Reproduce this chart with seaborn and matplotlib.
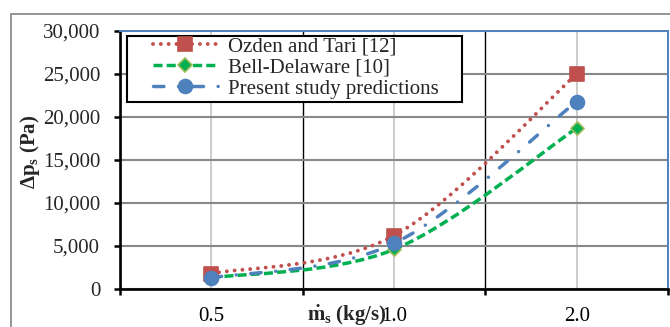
import numpy as np
import pandas as pd
import matplotlib
matplotlib.use("Agg")
import matplotlib.pyplot as plt
from matplotlib.path import Path
from matplotlib.patches import PathPatch, Rectangle
from matplotlib.lines import Line2D
from matplotlib.ticker import FuncFormatter
import seaborn as sns

# Shell-side pressure drop vs. shell-side mass flow rate
flow_rates = ["0.5", "1.0", "2.0"]
ozden_tari = [1800, 6200, 25000]
bell_delaware = [1300, 4600, 18700]
present_study = [1300, 5300, 21800]
series_names = ["Ozden and Tari [12]", "Bell-Delaware [10]", "Present study predictions"]
y_ticks = [0, 5000, 10000, 15000, 20000, 25000, 30000]

sns.set_theme(style="white")
plt.rcParams["font.family"] = ["Liberation Serif", "DejaVu Serif"]
plt.rcParams["mathtext.fontset"] = "custom"
plt.rcParams["mathtext.rm"] = "Liberation Serif"
plt.rcParams["mathtext.it"] = "Liberation Serif:italic"
plt.rcParams["mathtext.bf"] = "Liberation Serif:bold"

RED, GREEN, BLUE = "#C0504D", "#00B050", "#4F81BD"
FS = 15

fig = plt.figure(figsize=(6.70, 3.27), dpi=100)
W, H = 548, 258
ax = fig.add_axes([120 / 670, 1 - 289 / 327, W / 670, H / 327])

pos = np.arange(len(flow_rates))
df = pd.DataFrame({"x": np.tile(pos, 3),
                   "y": ozden_tari + bell_delaware + present_study,
                   "series": np.repeat(series_names, len(pos))})


def smooth_path(xs, ys):
    """Excel-style smoothed line: cubic Bezier segments through the points."""
    pts = np.column_stack([xs, ys]).astype(float)
    n = len(pts)
    verts = [pts[0]]
    codes = [Path.MOVETO]
    for i in range(n - 1):
        p0 = pts[max(i - 1, 0)]
        p1 = pts[i]
        p2 = pts[i + 1]
        p3 = pts[min(i + 2, n - 1)]
        c1 = p1 + (p2 - p0) / 6.0
        c2 = p2 - (p3 - p1) / 6.0
        verts += [c1, c2, p2]
        codes += [Path.CURVE4] * 3
    return Path(verts, codes)


styles = {
    series_names[0]: dict(color=RED, lw=2.8, ls=(0, (0.01, 2.0)), cap="round",
                          marker="s", ms=90, fc=RED, ec=RED),
    series_names[1]: dict(color=GREEN, lw=2.5, ls=(0, (2.6, 1.2)), cap="butt",
                          marker="D", ms=45, fc=GREEN, ec="#9BBB59"),
    series_names[2]: dict(color=BLUE, lw=2.5, ls=(0, (3.0, 4.2, 0.01, 4.2)), cap="round",
                          marker="o", ms=100, fc=BLUE, ec=BLUE),
}

for name in series_names:
    st = styles[name]
    sub = df[df["series"] == name]
    patch = PathPatch(smooth_path(sub["x"].values, sub["y"].values), fill=False,
                      edgecolor=st["color"], linewidth=st["lw"], linestyle=st["ls"],
                      zorder=3)
    patch.set_capstyle(st["cap"])
    ax.add_patch(patch)

for name in series_names:
    st = styles[name]
    sub = df[df["series"] == name]
    sns.scatterplot(x=sub["x"], y=sub["y"], marker=st["marker"], s=st["ms"],
                    color=st["fc"], edgecolor=st["ec"], linewidth=1.2, ax=ax,
                    zorder=4, legend=False)

ax.set_xlim(-0.5, len(flow_rates) - 0.5)
ax.set_ylim(0, 30000)
ax.set_xlabel("")
ax.set_ylabel("")

# Category axis: labels at centres, tick marks at boundaries
ax.set_xticks(pos)
ax.set_xticklabels(flow_rates)
ax.set_xticks(np.arange(len(flow_rates) + 1) - 0.5, minor=True)
ax.set_yticks(y_ticks)
ax.yaxis.set_major_formatter(FuncFormatter(lambda v, _: f"{int(v):,}"))

ax.tick_params(axis="x", which="major", length=0, pad=13, labelsize=FS, colors="black")
ax.tick_params(axis="x", which="minor", length=4.3, width=1.8, direction="out",
               color="black", bottom=True)
ax.tick_params(axis="y", which="major", length=4.3, width=1.8, direction="out",
               color="black", left=True, pad=10, labelsize=FS)

ax.set_axisbelow(True)
ax.grid(True, axis="y", which="major", color="#888888", linewidth=1.5)
ax.grid(True, axis="x", which="major", color="#C8C8C8", linewidth=1.3)
ax.grid(True, axis="x", which="minor", color="black", linewidth=1.0)

for side in ("left", "bottom"):
    ax.spines[side].set_color("black")
    ax.spines[side].set_linewidth(1.9)
for side in ("top", "right"):
    ax.spines[side].set_color(BLUE)
    ax.spines[side].set_linewidth(1.4)

# Legend box with wide side margins
ax.add_patch(Rectangle((7 / W, (289 - 102) / H), 335 / W, 66 / H,
                       transform=ax.transAxes, facecolor="white", edgecolor="black",
                       linewidth=1.5, zorder=5, clip_on=False))

handles = []
for name in series_names:
    st = styles[name]
    h = Line2D([0], [0], color=st["color"], linewidth=st["lw"], linestyle=st["ls"],
               marker=st["marker"], markersize=np.sqrt(st["ms"]),
               markerfacecolor=st["fc"], markeredgecolor=st["ec"], markeredgewidth=1.2)
    h.set_dash_capstyle(st["cap"])
    handles.append(h)
leg = ax.legend(handles, series_names, loc="upper left",
                bbox_to_anchor=(33 / W, (289 - 37) / H), borderaxespad=0,
                fontsize=FS, handlelength=3.1, handletextpad=0.48,
                labelspacing=0.07, borderpad=0.0, frameon=False)
leg.set_zorder(6)

fig.text(30 / 670, 1 - 152 / 327, r"$\mathbf{\Delta p_s}$ (Pa)", rotation=90,
         ha="center", va="center", fontsize=FS, fontweight="bold")
fig.text(347 / 670, 1 - 316 / 327, r"$\mathbf{\dot{m}_s}$ (kg/s)",
         ha="center", va="center", fontsize=FS, fontweight="bold")

fig.add_artist(Rectangle((11 / 670, -0.2), 1.2, 1.2 - 14 / 327,
                         transform=fig.transFigure, fill=False,
                         edgecolor="#8C8C8C", linewidth=1.3))

fig.savefig("out.png", dpi=100)
